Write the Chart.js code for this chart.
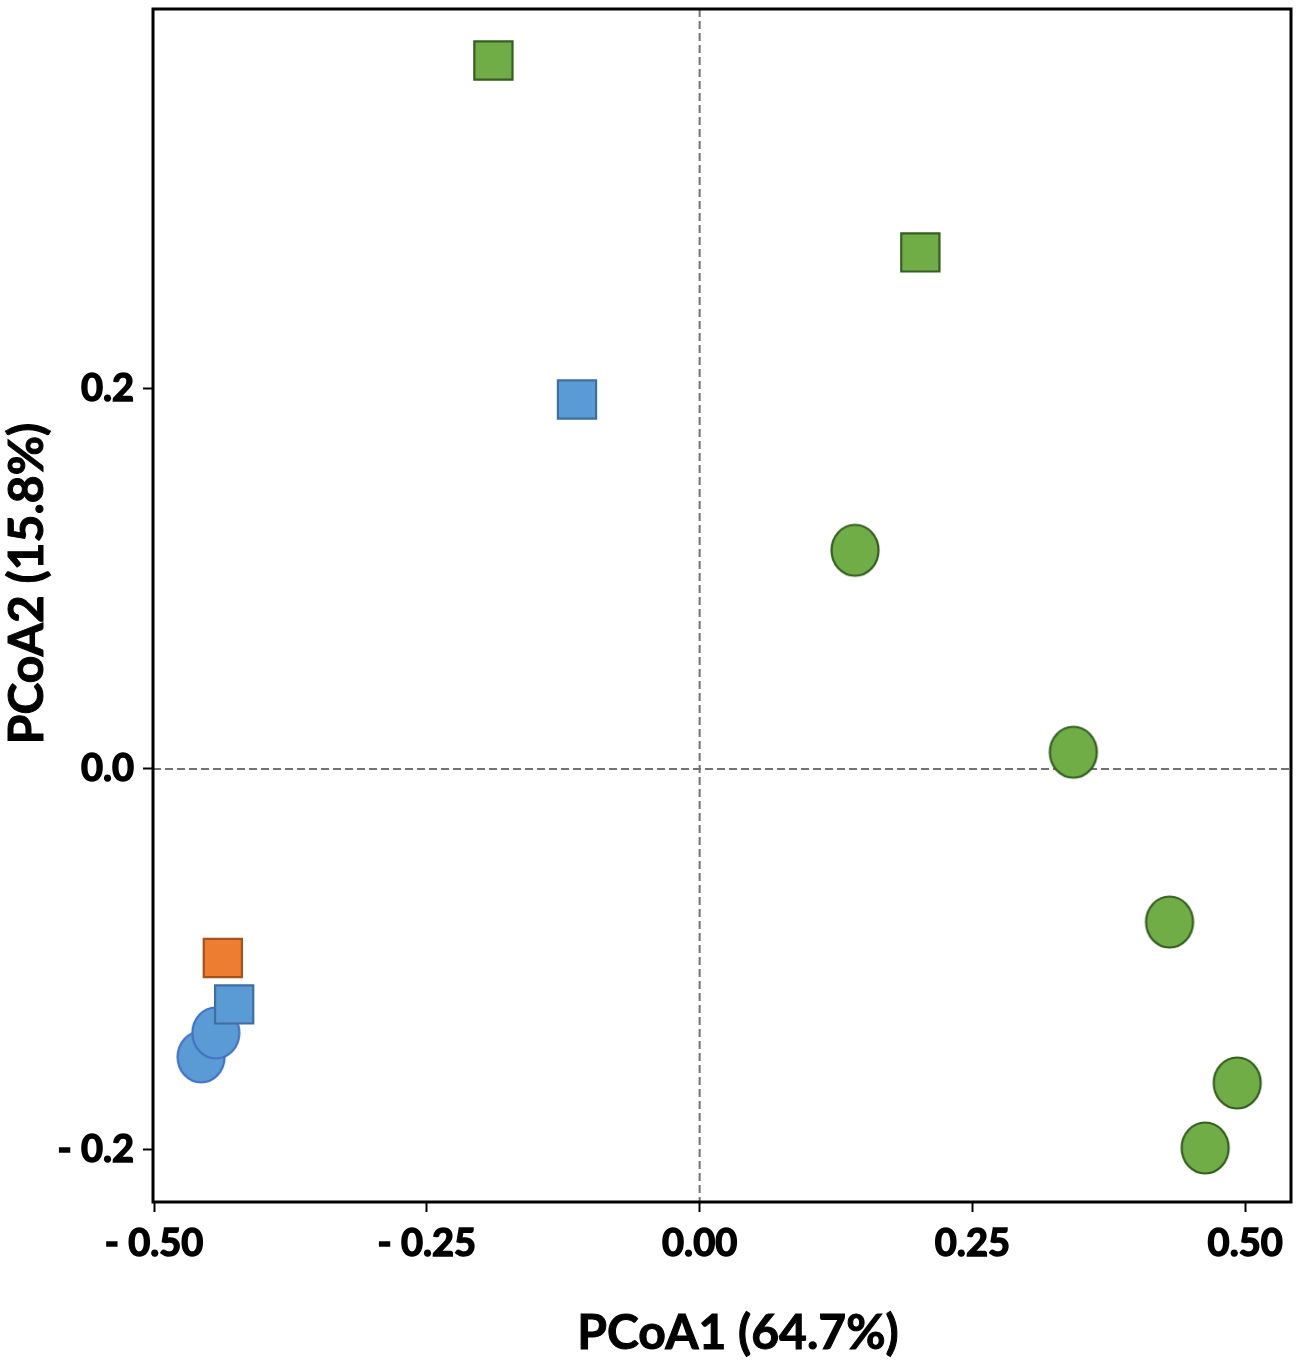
<!DOCTYPE html>
<html>
<head>
<meta charset="utf-8">
<title>PCoA</title>
<script src="https://cdn.jsdelivr.net/npm/chart.js@4.4.1/dist/chart.umd.min.js"></script>
<style>
  html, body { margin: 0; padding: 0; background: #fff; }
  #wrap { width: 1300px; height: 1368px; }
</style>
</head>
<body>
<div id="wrap"><canvas id="pcoa"></canvas></div>
<script>
// point coordinates (PCoA1, PCoA2)
const greenCircles = [
  { x: 0.1424, y: 0.1150 },
  { x: 0.3425, y: 0.0088 },
  { x: 0.4307, y: -0.0805 },
  { x: 0.4927, y: -0.1651 },
  { x: 0.4633, y: -0.1993 }
];
const greenSquares = [
  { x: -0.1890, y: 0.3725 },
  { x: 0.2023, y: 0.2716 }
];
const blueSquares = [
  { x: -0.1124, y: 0.1943 },
  { x: -0.4266, y: -0.1238 }
];
// lower one first so the upper one sits on top of it
const blueCircles = [
  { x: -0.4569, y: -0.1514 },
  { x: -0.4434, y: -0.1388 }
];
const orangeSquares = [
  { x: -0.4370, y: -0.0994 }
];

const xTickValues = [-0.5, -0.25, 0, 0.25, 0.5];
const xTickLabels = ['- 0.50', '- 0.25', '0.00', '0.25', '0.50'];
const yTickValues = [-0.2, 0, 0.2];
const yTickLabels = ['- 0.2', '0.0', '0.2'];
const xRange = [-0.501, 0.542];
const yRange = [-0.2277, 0.3996];

const xTitle = 'PCoA1 (64.7%)';
const yTitle = 'PCoA2 (15.8%)';

const FONT = 'Lato, "Open Sans", sans-serif';

// circles in the figure are a little taller than wide
function ellipseMarker(fill, stroke) {
  const c = document.createElement('canvas');
  c.width = 54;
  c.height = 58;
  const g = c.getContext('2d');
  g.beginPath();
  g.ellipse(27, 29, 23.5, 25.5, 0, 0, Math.PI * 2);
  g.fillStyle = fill;
  g.fill();
  g.lineWidth = 2.2;
  g.strokeStyle = stroke;
  g.stroke();
  return c;
}

function labelFor(values, labels, v) {
  const i = values.findIndex(t => Math.abs(t - v) < 1e-9);
  return i >= 0 ? labels[i] : '';
}

const frameAndZero = {
  id: 'frameAndZero',
  beforeDatasetsDraw(chart) {
    const { ctx, chartArea: a, scales } = chart;
    const x0 = scales.x.getPixelForValue(0);
    const y0 = scales.y.getPixelForValue(0);
    ctx.save();
    ctx.strokeStyle = '#727272';
    ctx.lineWidth = 2;
    ctx.setLineDash([8, 4]);
    ctx.beginPath();
    ctx.moveTo(x0, a.top);
    ctx.lineTo(x0, a.bottom);
    ctx.moveTo(a.left, y0);
    ctx.lineTo(a.right, y0);
    ctx.stroke();
    ctx.restore();
  },
  afterDraw(chart) {
    const { ctx, chartArea: a } = chart;
    ctx.save();
    ctx.strokeStyle = '#000';
    ctx.lineWidth = 3;
    ctx.strokeRect(a.left, a.top, a.right - a.left, a.bottom - a.top);

    // axis titles
    ctx.fillStyle = '#000';
    ctx.lineWidth = 1;
    ctx.font = 'bold 48px ' + FONT;
    ctx.textAlign = 'center';
    ctx.textBaseline = 'middle';
    const tx = (a.left + a.right) / 2 + 16;
    ctx.fillText(xTitle, tx, a.bottom + 132);
    ctx.strokeText(xTitle, tx, a.bottom + 132);
    ctx.translate(a.left - 125, (a.top + a.bottom) / 2 - 22);
    ctx.rotate(-Math.PI / 2);
    ctx.fillText(yTitle, 0, 0);
    ctx.strokeText(yTitle, 0, 0);
    ctx.restore();
  }
};

new Chart(document.getElementById('pcoa'), {
  type: 'scatter',
  data: {
    datasets: [
      {
        label: 'orange squares',
        data: orangeSquares,
        pointStyle: 'rect',
        pointRadius: 27,
        backgroundColor: '#ED7D31',
        borderColor: '#A5521C',
        borderWidth: 2.2
      },
      {
        label: 'blue squares',
        data: blueSquares,
        pointStyle: 'rect',
        pointRadius: 27,
        backgroundColor: '#5B9BD5',
        borderColor: '#3E6F9E',
        borderWidth: 2.2
      },
      {
        label: 'blue circles',
        data: blueCircles,
        pointStyle: ellipseMarker('#5B9BD5', '#4472C4'),
        pointRadius: 24
      },
      {
        label: 'green squares',
        data: greenSquares,
        pointStyle: 'rect',
        pointRadius: 27,
        backgroundColor: '#70AD47',
        borderColor: '#355E20',
        borderWidth: 2.2
      },
      {
        label: 'green circles',
        data: greenCircles,
        pointStyle: ellipseMarker('#70AD47', '#355E20'),
        pointRadius: 24
      }
    ]
  },
  options: {
    responsive: true,
    maintainAspectRatio: false,
    devicePixelRatio: 1,
    animation: false,
    events: [],
    layout: {
      autoPadding: false,
      padding: { top: 9, right: 9, left: 0, bottom: 0 }
    },
    plugins: {
      legend: { display: false },
      tooltip: { enabled: false }
    },
    scales: {
      x: {
        type: 'linear',
        min: xRange[0],
        max: xRange[1],
        afterBuildTicks: s => { s.ticks = xTickValues.map(v => ({ value: v })); },
        afterFit: s => {
          s.height = 166;
          s.paddingLeft = 0;
          s.paddingRight = 0;
        },
        border: { display: false },
        grid: {
          drawOnChartArea: false,
          drawTicks: true,
          tickLength: 10,
          tickWidth: 2,
          tickColor: '#000'
        },
        ticks: {
          color: '#000',
          textStrokeColor: '#000',
          textStrokeWidth: 1.5,
          padding: 9,
          maxRotation: 0,
          autoSkip: false,
          font: { family: FONT, size: 38, weight: 'bold' },
          callback: v => labelFor(xTickValues, xTickLabels, v)
        }
      },
      y: {
        type: 'linear',
        min: yRange[0],
        max: yRange[1],
        afterBuildTicks: s => { s.ticks = yTickValues.map(v => ({ value: v })); },
        afterFit: s => {
          s.width = 153;
          s.paddingTop = 0;
          s.paddingBottom = 0;
        },
        border: { display: false },
        grid: {
          drawOnChartArea: false,
          drawTicks: true,
          tickLength: 10,
          tickWidth: 2,
          tickColor: '#000'
        },
        ticks: {
          color: '#000',
          textStrokeColor: '#000',
          textStrokeWidth: 1.5,
          padding: 9,
          autoSkip: false,
          font: { family: FONT, size: 38, weight: 'bold' },
          callback: v => labelFor(yTickValues, yTickLabels, v)
        }
      }
    }
  },
  plugins: [frameAndZero]
});
</script>
</body>
</html>
